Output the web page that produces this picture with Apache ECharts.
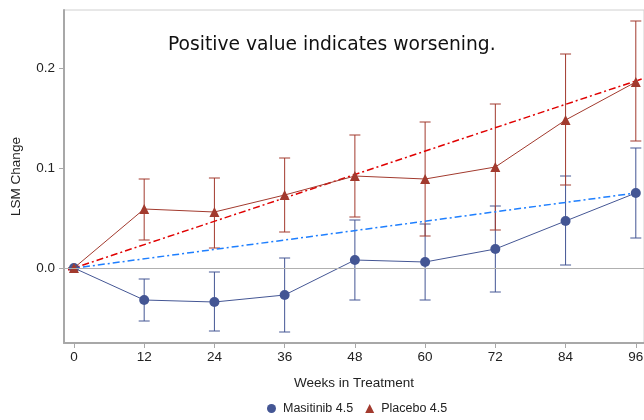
<!DOCTYPE html>
<html><head><meta charset="utf-8">
<script src="https://cdn.jsdelivr.net/npm/echarts@6/dist/echarts.min.js"></script>
<style>html,body{margin:0;padding:0;background:#fff}#c{width:644px;height:420px}</style>
</head><body><div id="c"></div>
<script>
const weeks = [0, 12, 24, 36, 48, 60, 72, 84, 96];
const masitinibMean  = [0, -0.032, -0.034, -0.027, 0.008, 0.006, 0.019, 0.047, 0.075];
const masitinibLower = [0, -0.053, -0.063, -0.064, -0.032, -0.032, -0.024, 0.003, 0.030];
const masitinibUpper = [0, -0.011, -0.004, 0.010, 0.048, 0.044, 0.062, 0.092, 0.120];
const placeboMean  = [0, 0.059, 0.056, 0.073, 0.092, 0.089, 0.101, 0.148, 0.186];
const placeboLower = [0, 0.028, 0.020, 0.036, 0.051, 0.032, 0.038, 0.083, 0.127];
const placeboUpper = [0, 0.089, 0.090, 0.110, 0.133, 0.146, 0.164, 0.214, 0.247];
const masitinibTrend = [[-1, -0.001], [96, 0.075]];
const placeboTrend = [[-1, -0.002], [97, 0.189]];
const yTicks = [0, 0.1, 0.2];
const xTicks = weeks;
const annotation = 'Positive value indicates worsening.';

const BLUE = '#445694', RED = '#A23A2E';
const FONT = 'Liberation Sans';

function errSeries(name, lower, upper, color) {
  return {
    type: 'custom', name: name + ' err', silent: true, z: 1,
    data: weeks.map((w, i) => [w, lower[i], upper[i]]),
    renderItem: function (params, api) {
      const lo = api.coord([api.value(0), api.value(1)]);
      const hi = api.coord([api.value(0), api.value(2)]);
      const cw = 5.5;
      const st = { stroke: color, lineWidth: 1, fill: null };
      return { type: 'group', children: [
        { type: 'line', shape: { x1: lo[0], y1: lo[1], x2: hi[0], y2: hi[1] }, style: st },
        { type: 'line', shape: { x1: lo[0] - cw, y1: lo[1], x2: lo[0] + cw, y2: lo[1] }, style: st },
        { type: 'line', shape: { x1: hi[0] - cw, y1: hi[1], x2: hi[0] + cw, y2: hi[1] }, style: st }
      ]};
    }
  };
}

const chart = echarts.init(document.getElementById('c'), null, { renderer: 'canvas' });
chart.setOption({
  animation: false,
  textStyle: { fontFamily: FONT },
  grid: { left: 64, right: 0, top: 10, bottom: 77, containLabel: false, outerBoundsMode: 'none',
          show: true, borderColor: '#d0d0d0', borderWidth: 1 },
  xAxis: {
    type: 'value', min: -1.7, max: 97.4,
    name: 'Weeks in Treatment', nameLocation: 'middle', nameGap: 33,
    nameTextStyle: { fontSize: 13.5, color: '#222', fontFamily: FONT },
    axisLine: { show: true, onZero: false, lineStyle: { color: '#a8a8a8', width: 2 } },
    axisTick: { show: true, length: 5, customValues: xTicks, lineStyle: { color: '#a8a8a8' } },
    axisLabel: { customValues: xTicks, margin: 7, fontSize: 13.5, color: '#222', fontFamily: FONT },
    splitLine: { show: false }
  },
  yAxis: {
    type: 'value', min: -0.075, max: 0.258,
    name: 'LSM Change', nameLocation: 'middle', nameGap: 41,
    nameTextStyle: { fontSize: 13.5, color: '#222', fontFamily: FONT },
    axisLine: { show: true, onZero: false, lineStyle: { color: '#a8a8a8', width: 2 } },
    axisTick: { show: true, length: 5, customValues: yTicks, lineStyle: { color: '#a8a8a8' } },
    axisLabel: { customValues: yTicks, margin: 9, fontSize: 13.5, color: '#222', fontFamily: FONT,
                 formatter: v => v.toFixed(1) },
    splitLine: { show: false }
  },
  legend: {
    bottom: 0, left: 262, itemGap: 12, itemWidth: 9, itemHeight: 9,
    textStyle: { fontSize: 12.5, color: '#222', fontFamily: FONT, padding: [0, 0, 0, 2] },
    data: [{ name: 'Masitinib 4.5', icon: 'circle' }, { name: 'Placebo 4.5', icon: 'triangle' }]
  },
  graphic: [{
    type: 'text', left: 168, top: 36,
    style: { text: annotation, fontSize: 18.7, fill: '#111', fontFamily: 'DejaVu Sans' }
  }],
  series: [
    {
      type: 'line', name: 'zero', silent: true, data: [], z: 0,
      markLine: { silent: true, symbol: 'none', label: { show: false },
        lineStyle: { color: '#b0b0b0', type: 'solid', width: 1 },
        data: [{ yAxis: 0 }] }
    },
    errSeries('Masitinib 4.5', masitinibLower, masitinibUpper, BLUE),
    errSeries('Placebo 4.5', placeboLower, placeboUpper, RED),
    {
      type: 'line', name: 'mtrend', silent: true, data: masitinibTrend, symbol: 'none', z: 2,
      lineStyle: { color: '#1E7FFF', width: 1.5, type: [7, 3, 2, 3] }
    },
    {
      type: 'line', name: 'ptrend', silent: true, data: placeboTrend, symbol: 'none', z: 2,
      lineStyle: { color: '#E00000', width: 1.5, type: [7, 3, 2, 3] }
    },
    {
      type: 'line', name: 'Masitinib 4.5', z: 3,
      data: weeks.map((w, i) => [w, masitinibMean[i]]),
      symbol: 'circle', symbolSize: 10,
      itemStyle: { color: BLUE }, lineStyle: { color: BLUE, width: 1 }
    },
    {
      type: 'line', name: 'Placebo 4.5', z: 4,
      data: weeks.map((w, i) => [w, placeboMean[i]]),
      symbol: 'triangle', symbolSize: 10,
      itemStyle: { color: RED }, lineStyle: { color: RED, width: 1 }
    }
  ]
});
</script></body></html>
